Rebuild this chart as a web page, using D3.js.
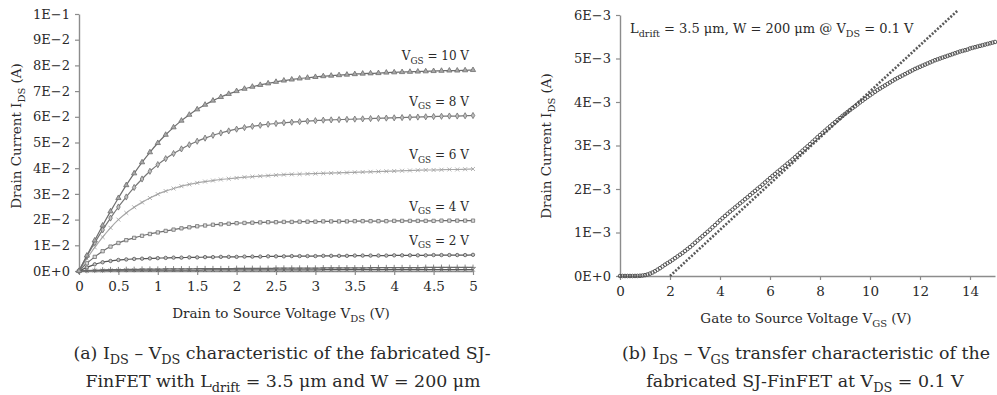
<!DOCTYPE html>
<html>
<head>
<meta charset="utf-8">
<script src="https://cdn.jsdelivr.net/npm/d3@7"></script>
<style>
  body { margin: 0; background: #fff; }
  svg { display: block; }
  text { font-family: "DejaVu Serif", serif; fill: #2a2a2a; }
</style>
</head>
<body>
<svg id="fig" width="997" height="395"></svg>
<script>
// ---- (a) output characteristic: drain current (A) vs drain-source voltage (V)
const vdsSweep = [0,0.1,0.2,0.3,0.4,0.5,0.6,0.7,0.8,0.9,1.0,1.1,1.2,1.3,1.4,1.5,1.6,1.7,1.8,1.9,2.0,
  2.1,2.2,2.3,2.4,2.5,2.6,2.7,2.8,2.9,3.0,3.1,3.2,3.3,3.4,3.5,3.6,3.7,3.8,3.9,4.0,
  4.1,4.2,4.3,4.4,4.5,4.6,4.7,4.8,4.9,5.0];

const idsVgs10 = [0,.0060,.0119,.0177,.0232,.0284,.0334,.0380,.0423,.0462,.0498,
  .0530,.0559,.0585,.0608,.0629,.0647,.0663,.0677,.0689,.0700,
  .0709,.0717,.0724,.0730,.0736,.0741,.0745,.0749,.0752,.0755,
  .0758,.0760,.0762,.0764,.0766,.0768,.0769,.0770,.0772,.0773,
  .0774,.0775,.0776,.0777,.0778,.0779,.0780,.0780,.0781,.0782];
const idsVgs8 = [0,.0058,.0110,.0160,.0206,.0249,.0288,.0325,.0358,.0388,.0414,
  .0437,.0457,.0475,.0491,.0505,.0517,.0528,.0537,.0545,.0552,
  .0558,.0563,.0567,.0571,.0574,.0577,.0579,.0581,.0583,.0585,
  .0587,.0588,.0589,.0590,.0591,.0592,.0593,.0594,.0595,.0596,
  .0597,.0598,.0599,.0600,.0601,.0602,.0603,.0603,.0604,.0605];
const idsVgs6 = [0,.0048,.0092,.0132,.0168,.0200,.0226,.0248,.0267,.0284,.0299,
  .0311,.0321,.0330,.0337,.0343,.0348,.0352,.0356,.0359,.0362,
  .0365,.0367,.0369,.0371,.0373,.0375,.0376,.0377,.0378,.0379,
  .0380,.0381,.0382,.0383,.0384,.0385,.0386,.0387,.0388,.0389,
  .0390,.0391,.0392,.0393,.0393,.0394,.0395,.0395,.0396,.0397];
const idsVgs4 = [0,.0030,.0055,.0077,.0095,.0109,.0120,.0129,.0137,.0144,.0150,
  .0156,.0161,.0166,.0170,.0174,.0177,.0180,.0182,.0184,.0186,
  .0187,.0188,.0189,.0190,.0190,.0191,.0191,.0192,.0192,.0192,
  .0193,.0193,.0193,.0193,.0194,.0194,.0194,.0194,.0194,.0195,
  .0195,.0195,.0195,.0195,.0195,.0196,.0196,.0196,.0196,.0196];
const idsVgs2 = [0,.0014,.0026,.0034,.0039,.0043,.0045,.0047,.0048,.0049,.0050,
  .0051,.0052,.0052,.0053,.0053,.0054,.0054,.0055,.0055,.0055,
  .0056,.0056,.0056,.0057,.0057,.0057,.0058,.0058,.0058,.0058,
  .0059,.0059,.0059,.0059,.0060,.0060,.0060,.0060,.0060,.0061,
  .0061,.0061,.0061,.0061,.0062,.0062,.0062,.0062,.0062,.0063];
const idsVgs1 = [0,.0002,.0003,.0004,.0005,.0005,.0006,.0006,.0007,.0007,.0007,
  .0008,.0008,.0008,.0008,.0009,.0009,.0009,.0009,.0009,.0010,
  .0010,.0010,.0010,.0010,.0011,.0011,.0011,.0011,.0011,.0011,
  .0012,.0012,.0012,.0012,.0012,.0012,.0013,.0013,.0013,.0013,
  .0013,.0013,.0013,.0014,.0014,.0014,.0014,.0014,.0014,.0014];
const idsVgs0 = [0,.0001,.0002,.0002,.0003,.0003,.0003,.0003,.0003,.0003,.0003,
  .0003,.0003,.0003,.0003,.0003,.0004,.0004,.0004,.0004,.0004,
  .0004,.0004,.0004,.0004,.0004,.0004,.0004,.0004,.0004,.0004,
  .0005,.0005,.0005,.0005,.0005,.0005,.0005,.0005,.0005,.0005,
  .0005,.0005,.0005,.0005,.0005,.0005,.0005,.0005,.0005,.0005];

const vgsLabels = ["10", "8", "6", "4", "2"];

const outTicksX = [0,0.5,1,1.5,2,2.5,3,3.5,4,4.5,5];
const outTickLabelsX = ["0","0.5","1","1.5","2","2.5","3","3.5","4","4.5","5"];
const outTicksY = [0,0.01,0.02,0.03,0.04,0.05,0.06,0.07,0.08,0.09,0.1];
const outTickLabelsY = ["0E+0","1E\u22122","2E\u22122","3E\u22122","4E\u22122","5E\u22122",
  "6E\u22122","7E\u22122","8E\u22122","9E\u22122","1E\u22121"];

// ---- (b) transfer characteristic at VDS = 0.1 V
const vgsSweep = [0,0.1,0.2,0.3,0.4,0.5,0.6,0.7,0.8,0.9,
  1.0,1.1,1.2,1.3,1.4,1.5,1.6,1.7,1.8,1.9,
  2.0,2.1,2.2,2.3,2.4,2.5,2.6,2.7,2.8,2.9,
  3.0,3.1,3.2,3.3,3.4,3.5,3.6,3.7,3.8,3.9,
  4.0,4.1,4.2,4.3,4.4,4.5,4.6,4.7,4.8,4.9,
  5.0,5.1,5.2,5.3,5.4,5.5,5.6,5.7,5.8,5.9,
  6.0,6.1,6.2,6.3,6.4,6.5,6.6,6.7,6.8,6.9,
  7.0,7.1,7.2,7.3,7.4,7.5,7.6,7.7,7.8,7.9,
  8.0,8.1,8.2,8.3,8.4,8.5,8.6,8.7,8.8,8.9,
  9.0,9.1,9.2,9.3,9.4,9.5,9.6,9.7,9.8,9.9,
  10.0,10.1,10.2,10.3,10.4,10.5,10.6,10.7,10.8,10.9,
  11.0,11.1,11.2,11.3,11.4,11.5,11.6,11.7,11.8,11.9,
  12.0,12.1,12.2,12.3,12.4,12.5,12.6,12.7,12.8,12.9,
  13.0,13.1,13.2,13.3,13.4,13.5,13.6,13.7,13.8,13.9,
  14.0,14.1,14.2,14.3,14.4,14.5,14.6,14.7,14.8,14.9,
  15.0];
// measured drain current in mA
const idsTransferMilliamp = [0,0,0,0,0,0,0.001,0.002,0.005,0.01,
  0.02,0.035,0.055,0.08,0.11,0.145,0.18,0.22,0.26,0.295,
  0.33,0.37,0.41,0.45,0.49,0.53,0.575,0.62,0.665,0.715,
  0.765,0.815,0.865,0.915,0.965,1.015,1.065,1.12,1.17,1.225,
  1.28,1.33,1.38,1.43,1.48,1.525,1.575,1.62,1.67,1.715,
  1.765,1.81,1.86,1.91,1.955,2.005,2.05,2.10,2.15,2.20,
  2.25,2.30,2.345,2.395,2.44,2.49,2.535,2.585,2.63,2.68,
  2.73,2.78,2.83,2.88,2.93,2.98,3.03,3.085,3.135,3.19,
  3.24,3.29,3.34,3.39,3.44,3.49,3.535,3.585,3.63,3.68,
  3.725,3.77,3.815,3.86,3.90,3.945,3.99,4.03,4.075,4.115,
  4.155,4.195,4.235,4.275,4.31,4.345,4.38,4.415,4.45,4.485,
  4.52,4.55,4.58,4.61,4.64,4.67,4.70,4.73,4.76,4.785,
  4.81,4.835,4.86,4.885,4.91,4.935,4.96,4.98,5.00,5.02,
  5.04,5.06,5.08,5.10,5.12,5.14,5.16,5.175,5.19,5.205,
  5.23,5.245,5.26,5.275,5.29,5.305,5.32,5.335,5.35,5.365,
  5.38];
// linear extrapolation line (threshold fit)
const fitVgs = [2.0, 13.5];
const fitIdsMilliamp = [0, 6.1];

const trTicksX = [0,2,4,6,8,10,12,14];
const trTickLabelsX = ["0","2","4","6","8","10","12","14"];
const trTicksY = [0,0.001,0.002,0.003,0.004,0.005,0.006];
const trTickLabelsY = ["0E+0","1E\u22123","2E\u22123","3E\u22123","4E\u22123","5E\u22123","6E\u22123"];

// ------------------------------------------------------------------
const svg = d3.select("#fig");
const AXIS = "#8c8c8c";
const FS_TICK_Y = 13, FS_TICK_X = 13.5, FS_TITLE = 13.5, FS_CAPTION = 17.4, FS_LABEL = 12, FS_NOTE = 13;

// write text made of plain and subscript runs
function rich(sel, parts, fs) {
  let inSub = false;
  parts.forEach(([str, kind]) => {
    const t = sel.append("tspan").text(str);
    if (kind === "sub" && !inSub) { t.attr("font-size", fs * 0.74).attr("dy", fs * 0.3); inSub = true; }
    else if (kind !== "sub" && inSub) { t.attr("dy", -fs * 0.3); inSub = false; }
  });
  return sel;
}

function styleAxis(g) {
  g.selectAll(".domain").attr("stroke", AXIS).attr("stroke-width", 1.4);
  g.selectAll(".tick line").attr("stroke", AXIS).attr("stroke-width", 1.2);
  g.selectAll(".tick text").attr("fill", "#2a2a2a").attr("font-family", "DejaVu Serif");
}

// ====== panel (a)
const xA = d3.scaleLinear().domain([0, 5]).range([79, 473]);
const yA = d3.scaleLinear().domain([0, 0.1]).range([271, 14]);

const gA = svg.append("g");
gA.append("g").attr("transform", `translate(0,${yA(0)})`)
  .call(d3.axisBottom(xA).tickValues(outTicksX).tickFormat((d, i) => outTickLabelsX[i])
    .tickSize(4).tickSizeOuter(0).tickPadding(6))
  .call(styleAxis).selectAll(".tick text").attr("font-size", FS_TICK_X);
gA.append("g").attr("transform", `translate(${xA(0)},0)`)
  .call(d3.axisLeft(yA).tickValues(outTicksY).tickFormat((d, i) => outTickLabelsY[i])
    .tickSize(4).tickSizeOuter(0).tickPadding(5))
  .call(styleAxis).selectAll(".tick text").attr("font-size", FS_TICK_Y);

const outSeries = [
  { vals: idsVgs0,  line: "#5a5a5a", sym: d3.symbolTimes,    size: 10, fill: "none", stroke: "#5a5a5a" },
  { vals: idsVgs1,  line: "#6a6a6a", sym: d3.symbolPlus,     size: 12, fill: "none", stroke: "#6a6a6a" },
  { vals: idsVgs2,  line: "#555555", sym: d3.symbolCircle,   size: 9,  fill: "#c4c4c4", stroke: "#555555", label: vgsLabels[4] },
  { vals: idsVgs4,  line: "#6e6e6e", sym: d3.symbolSquare,   size: 11, fill: "#dadada", stroke: "#707070", label: vgsLabels[3] },
  { vals: idsVgs6,  line: "#a8a8a8", sym: d3.symbolTimes,    size: 12, fill: "none", stroke: "#a0a0a0", label: vgsLabels[2] },
  { vals: idsVgs8,  line: "#777777", sym: d3.symbolDiamond,  size: 11, fill: "#c0c0c0", stroke: "#707070", label: vgsLabels[1] },
  { vals: idsVgs10, line: "#6e6e6e", sym: d3.symbolTriangle, size: 12, fill: "#a8a8a8", stroke: "#6e6e6e", label: vgsLabels[0] }
];

const lineA = d3.line().x((d, i) => xA(vdsSweep[i])).y(d => yA(d)).curve(d3.curveMonotoneX);
outSeries.forEach(s => {
  gA.append("path").datum(s.vals).attr("d", lineA)
    .attr("fill", "none").attr("stroke", s.line).attr("stroke-width", 1.2);
  gA.append("g").selectAll("path").data(s.vals).join("path")
    .attr("transform", (d, i) => `translate(${xA(vdsSweep[i])},${yA(d)})`)
    .attr("d", d3.symbol().type(s.sym).size(s.size))
    .attr("fill", s.fill).attr("stroke", s.stroke).attr("stroke-width", 0.8);
  if (s.label) {
    const last = s.vals[s.vals.length - 1];
    const t = gA.append("text").attr("x", xA(5) - 4).attr("y", yA(last) - 10)
      .attr("text-anchor", "end").attr("font-size", FS_LABEL);
    rich(t, [["V", ""], ["GS", "sub"], [` = ${s.label} V`, ""]], FS_LABEL);
  }
});

// axis titles (a)
rich(gA.append("text").attr("x", 281).attr("y", 318).attr("text-anchor", "middle").attr("font-size", FS_TITLE),
  [["Drain to Source Voltage V", ""], ["DS", "sub"], [" (V)", ""]], FS_TITLE);
rich(gA.append("text").attr("transform", "translate(21,136) rotate(-90)").attr("text-anchor", "middle").attr("font-size", FS_TITLE),
  [["Drain Current I", ""], ["DS", "sub"], [" (A)", ""]], FS_TITLE);

// caption (a)
rich(gA.append("text").attr("x", 282).attr("y", 359).attr("text-anchor", "middle").attr("font-size", FS_CAPTION),
  [["(a) I", ""], ["DS", "sub"], [" \u2013 V", ""], ["DS", "sub"], [" characteristic of the fabricated SJ-", ""]], FS_CAPTION);
rich(gA.append("text").attr("x", 283).attr("y", 387).attr("text-anchor", "middle").attr("font-size", FS_CAPTION),
  [["FinFET with L", ""], ["drift", "sub"], [" = 3.5 \u03bcm and W = 200 \u03bcm", ""]], FS_CAPTION);

// ====== panel (b)
const xB = d3.scaleLinear().domain([0, 15]).range([620, 995]);
const yB = d3.scaleLinear().domain([0, 0.006]).range([276, 15]);

const gB = svg.append("g");
gB.append("g").attr("transform", `translate(0,${yB(0)})`)
  .call(d3.axisBottom(xB).tickValues(trTicksX).tickFormat((d, i) => trTickLabelsX[i])
    .tickSize(4).tickSizeOuter(0).tickPadding(6))
  .call(styleAxis).selectAll(".tick text").attr("font-size", FS_TICK_X);
gB.append("g").attr("transform", `translate(${xB(0)},0)`)
  .call(d3.axisLeft(yB).tickValues(trTicksY).tickFormat((d, i) => trTickLabelsY[i])
    .tickSize(4).tickSizeOuter(0).tickPadding(5))
  .call(styleAxis).selectAll(".tick text").attr("font-size", FS_TICK_Y);

// extrapolation line, dotted
const fitLine = d3.line().x((d, i) => xB(fitVgs[i])).y(d => yB(d / 1000));
gB.append("path").datum(fitIdsMilliamp).attr("d", fitLine)
  .attr("fill", "none").attr("stroke", "#5a5a5a").attr("stroke-width", 2.6)
  .attr("stroke-dasharray", "2 1.6");

// measured points, open circles
gB.append("g").selectAll("circle").data(idsTransferMilliamp).join("circle")
  .attr("cx", (d, i) => xB(vgsSweep[i])).attr("cy", d => yB(d / 1000)).attr("r", 1.8)
  .attr("fill", "none").attr("stroke", "#4e4e4e").attr("stroke-width", 0.95);

// annotation
rich(gB.append("text").attr("x", 630).attr("y", 33).attr("font-size", FS_NOTE),
  [["L", ""], ["drift", "sub"], [" = 3.5 \u03bcm, W = 200 \u03bcm @ V", ""], ["DS", "sub"], [" = 0.1 V", ""]], FS_NOTE);

// axis titles (b)
rich(gB.append("text").attr("x", 806).attr("y", 323).attr("text-anchor", "middle").attr("font-size", FS_TITLE),
  [["Gate to Source Voltage V", ""], ["GS", "sub"], [" (V)", ""]], FS_TITLE);
rich(gB.append("text").attr("transform", "translate(551,146) rotate(-90)").attr("text-anchor", "middle").attr("font-size", FS_TITLE),
  [["Drain Current I", ""], ["DS", "sub"], [" (A)", ""]], FS_TITLE);

// caption (b)
rich(gB.append("text").attr("x", 806).attr("y", 359).attr("text-anchor", "middle").attr("font-size", FS_CAPTION),
  [["(b) I", ""], ["DS", "sub"], [" \u2013 V", ""], ["GS", "sub"], [" transfer characteristic of the", ""]], FS_CAPTION);
rich(gB.append("text").attr("x", 805).attr("y", 387).attr("text-anchor", "middle").attr("font-size", FS_CAPTION),
  [["fabricated SJ-FinFET at V", ""], ["DS", "sub"], [" = 0.1 V", ""]], FS_CAPTION);
</script>
</body>
</html>
